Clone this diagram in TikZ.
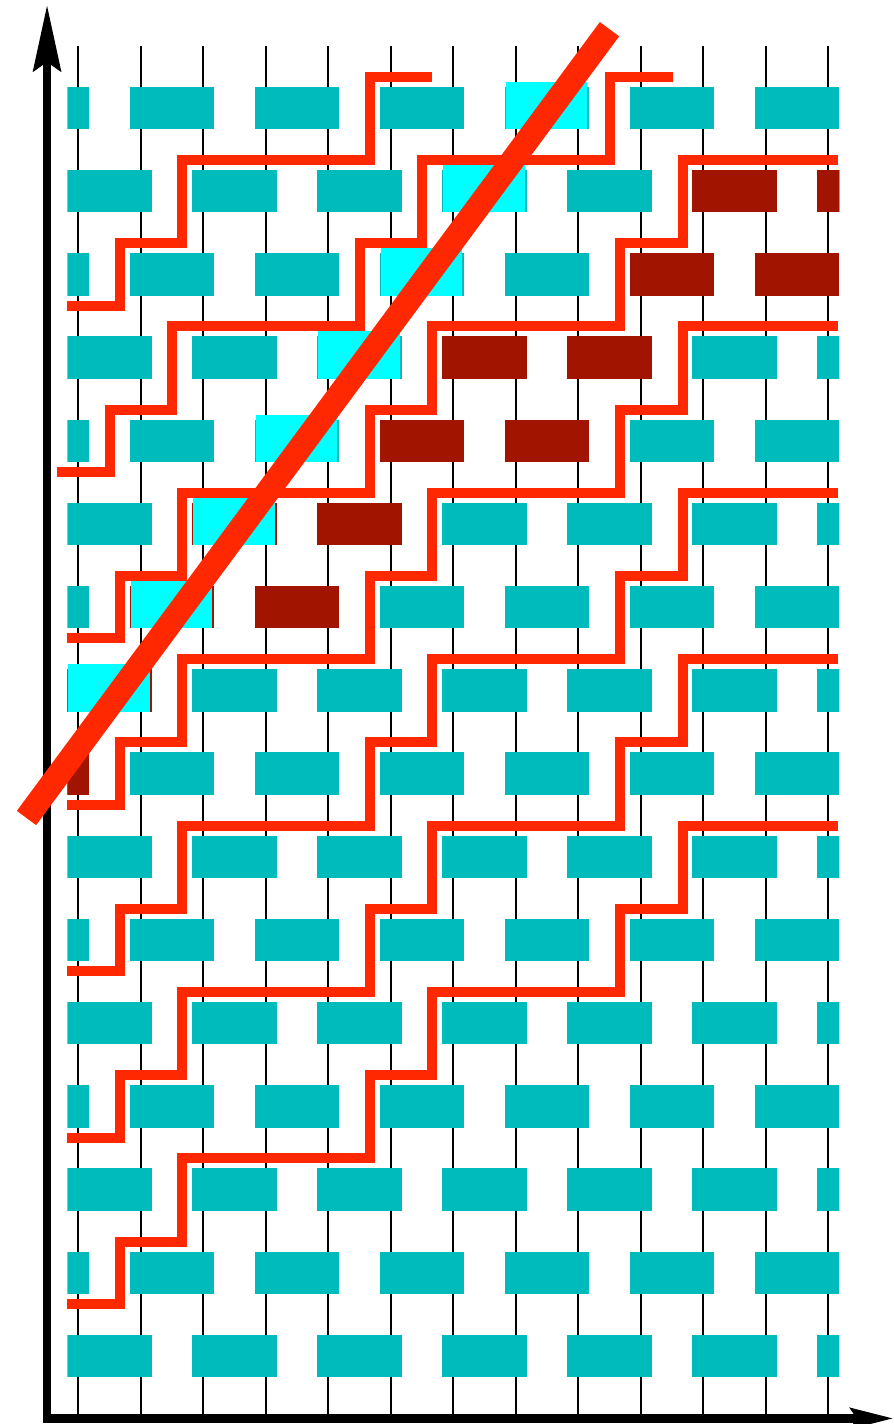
\documentclass[tikz,border=0pt]{standalone}
\usepackage{tikz}
\usetikzlibrary{arrows.meta}
\definecolor{col1}{RGB}{0,187,187}
\definecolor{col2}{RGB}{0,255,255}
\definecolor{col3}{RGB}{160,20,0}
\definecolor{col4}{RGB}{255,40,0}
\tikzset{
  wire/.style ={black,line width=0.4mm},
  brick/.style={fill=col1},
  hot/.style  ={fill=col3},
  lit/.style  ={fill=col2},
  stair/.style={col4,line width=2mm},
  cut/.style  ={col4,line width=4.8mm},
  ax/.style   ={black,line width=1.7mm},
}

\begin{document}
\begin{tikzpicture}[x=1.25cm,y=1.664cm]
  \useasboundingbox (-1.2528,-0.8173) rectangle (13.0512,16.298);
  % vertical wires
  \foreach \i in {0,...,12} \draw[wire] (\i,-0.75) -- (\i,15.75);
  % bricks, rows alternate by one wire
  \begin{scope}
    \clip (-0.176,-1) rectangle (12.176,17);
    \foreach \j in {0,...,15}{
      \pgfmathtruncatemacro\off{-mod(\j,2)}
      \foreach \m in {0,...,6}
        \fill[brick] ({2*\m+\off-0.176},{\j-0.254}) rectangle ({2*\m+\off+1.176},{\j+0.254});
    }
    \foreach \j/\a in {14/10,14/12,13/9,13/11,12/6,12/8,11/5,11/7,10/4,10/2,9/3,9/1,8/0,7/-1}
      \fill[hot] ({\a-0.176},{\j-0.254}) rectangle ({\a+1.176},{\j+0.254});
    \foreach \j/\a in {15/7,14/6,13/5,12/4,11/3,10/2,9/1,8/0}
      \fill[lit] ({\a-0.16},{\j-0.254}) rectangle ({\a+1.146},{\j+0.314});
  \end{scope}
  % staircases
  \foreach \k in {0,...,4}
    \draw[stair,shift={(0,2*\k)}] (-0.176,0.625) -| (0.667,1.375) -| (1.667,2.375)
      -| (4.667,3.375) -| (5.667,4.375) -| (8.667,5.375) -| (9.667,6.375) -- (12.16,6.375);
  \draw[stair,shift={(-0.16,10)}] (-0.176,0.625) -| (0.667,1.375) -| (1.667,2.375)
      -| (4.667,3.375) -| (5.667,4.375) -| (8.667,5.375) -- (9.667,5.375);
  \draw[stair,shift={(0,12)}] (-0.176,0.625) -| (0.667,1.375) -| (1.667,2.375)
      -| (4.667,3.375) -- (5.667,3.375);
  % axes
  \coordinate (ytip) at (-0.5,16.238);
  \coordinate (xtip) at (13.051,-0.75);
  \draw[ax,{Stealth[length=13.2mm,width=5.5mm,inset=1.8mm]}-{Stealth[length=8.6mm,width=4mm,inset=1.2mm]}]
    (ytip) |- (xtip);
  % cut line
  \coordinate (c1) at (-0.829,6.466);
  \coordinate (c2) at (8.499,15.947);
  \draw[cut] (c1) -- (c2);
\end{tikzpicture}
\end{document}
